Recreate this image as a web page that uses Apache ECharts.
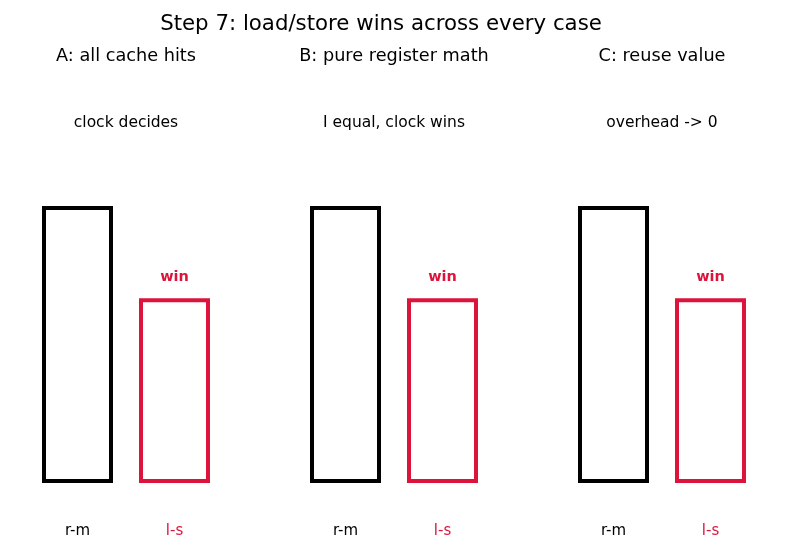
<!DOCTYPE html>
<html>
<head>
<meta charset="utf-8">
<script src="https://cdn.jsdelivr.net/npm/echarts@6/dist/echarts.min.js"></script>
<style>
  html, body { margin: 0; padding: 0; background: #fff; }
  #chart { width: 787px; height: 551px; }
</style>
</head>
<body>
<div id="chart"></div>
<script>
const mainTitle = 'Step 7: load/store wins across every case';
const panelTitles = ['A: all cache hits', 'B: pure register math', 'C: reuse value'];
const panelNotes = ['clock decides', 'I equal, clock wins', 'overhead -> 0'];
const categories = ['r-m', 'l-s'];
const panelValues = [[3, 2], [3, 2], [3, 2]];
const winnerLabel = 'win';

const RED = '#dc143c';
const FONT = 'DejaVu Sans';

const gridLefts = [29, 297, 565];
const gridWidth = 194;

const grids = [], xAxes = [], yAxes = [], series = [], graphics = [];

function label(text, x, y, size) {
  return {
    type: 'text', x: x, y: y,
    style: { text: text, fontFamily: FONT, fontSize: size, fill: '#000', align: 'center', verticalAlign: 'middle' }
  };
}

graphics.push(label(mainTitle, 381, 24, 21.3));

panelValues.forEach((vals, i) => {
  grids.push({ left: gridLefts[i], width: gridWidth, top: 67.5, height: 415.5 });
  xAxes.push({
    type: 'category', gridIndex: i, data: categories,
    axisLine: { show: false }, axisTick: { show: false },
    axisLabel: {
      margin: 41,
      formatter: v => v === 'l-s' ? '{r|' + v + '}' : '{k|' + v + '}',
      rich: {
        k: { color: '#000', fontSize: 15, fontFamily: FONT },
        r: { color: RED, fontSize: 15, fontFamily: FONT }
      }
    }
  });
  yAxes.push({ type: 'value', gridIndex: i, min: 0, max: 4.5, show: false, splitLine: { show: false } });
  series.push({
    type: 'bar', xAxisIndex: i, yAxisIndex: i, barWidth: 71,
    data: vals.map((v, j) => ({
      value: v,
      itemStyle: { color: 'rgba(255,255,255,0)', borderColor: j === 1 ? RED : '#000', borderWidth: 4 },
      label: {
        show: j === 1, position: 'top', distance: 14, formatter: winnerLabel,
        color: RED, fontWeight: 'bold', fontSize: 14.5, fontFamily: FONT
      }
    })),
    animation: false
  });
  const cx = gridLefts[i] + gridWidth / 2;
  graphics.push(label(panelTitles[i], cx, 56, 17.7));
  graphics.push(label(panelNotes[i], cx, 123, 15.5));
});

const chart = echarts.init(document.getElementById('chart'));
chart.setOption({
  backgroundColor: '#fff',
  animation: false,
  textStyle: { fontFamily: FONT },
  grid: grids,
  xAxis: xAxes,
  yAxis: yAxes,
  series: series,
  graphic: graphics
});
</script>
</body>
</html>
